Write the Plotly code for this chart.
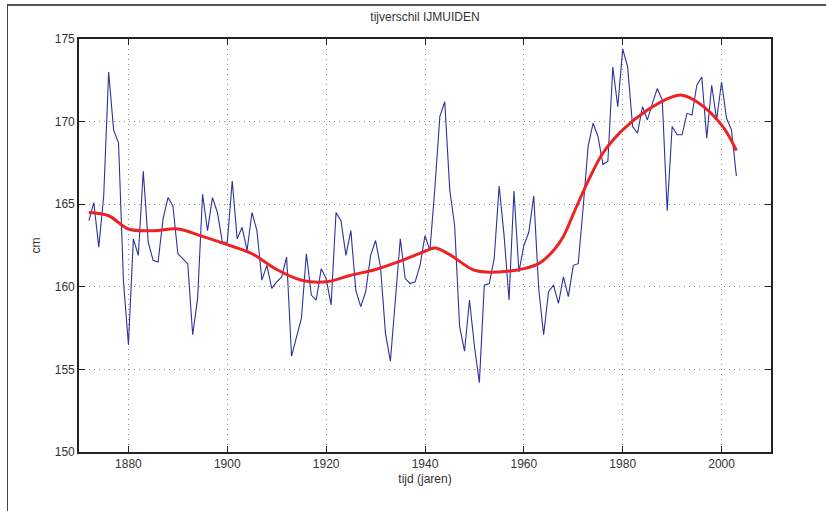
import plotly.graph_objects as go

years = list(range(1872, 2004))
tijverschil = [
    164.0, 165.1, 162.4, 165.5, 173.0, 169.5, 168.7, 160.3, 156.5, 162.9,  # 1872-1881
    161.9, 167.0, 162.7, 161.6, 161.5, 164.1, 165.4, 164.9, 162.0, 161.7,  # 1882-1891
    161.4, 157.1, 159.3, 165.6, 163.4, 165.4, 164.5, 162.7, 162.7, 166.4,  # 1892-1901
    162.9, 163.6, 162.2, 164.5, 163.4, 160.4, 161.3, 159.9, 160.3, 160.6,  # 1902-1911
    161.8, 155.8, 156.9, 158.1, 162.0, 159.5, 159.2, 161.1, 160.5, 158.9,  # 1912-1921
    164.5, 164.0, 161.9, 163.4, 159.8, 158.8, 159.7, 161.9, 162.8, 161.2,  # 1922-1931
    157.2, 155.5, 159.2, 162.9, 160.5, 160.2, 160.3, 161.3, 163.1, 162.2,  # 1932-1941
    166.0, 170.3, 171.2, 165.9, 163.7, 157.6, 156.1, 159.2, 156.4, 154.2,  # 1942-1951
    160.1, 160.2, 161.7, 166.1, 163.1, 159.2, 165.8, 160.9, 162.5, 163.3,  # 1952-1961
    165.5, 159.9, 157.1, 159.7, 160.1, 159.0, 160.6, 159.4, 161.3, 161.4,  # 1962-1971
    164.8, 168.5, 169.9, 169.1, 167.4, 167.6, 173.3, 170.9, 174.4, 173.3,  # 1972-1981
    169.7, 169.3, 170.9, 170.1, 171.1, 172.0, 171.3, 164.6, 169.7, 169.2,  # 1982-1991
    169.2, 170.5, 170.4, 172.2, 172.7, 169.0, 172.2, 170.1, 172.4, 170.2,  # 1992-2001
    169.5, 166.7,                                                          # 2002-2003
]

trend_years = [1872, 1876, 1880, 1885, 1890, 1895, 1900, 1905, 1910, 1915,
               1920, 1925, 1930, 1935, 1940, 1942, 1945, 1950, 1955, 1960,
               1963, 1966, 1968, 1970, 1973, 1976, 1980, 1985, 1990, 1992,
               1995, 2000, 2003]
trend = [164.5, 164.3, 163.5, 163.4, 163.5, 163.05, 162.55, 162.0, 161.05, 160.4,
         160.3, 160.7, 161.05, 161.55, 162.15, 162.35, 161.95, 161.0, 160.9, 161.1,
         161.4, 162.2, 163.05, 164.4, 166.4, 168.1, 169.5, 170.7, 171.5, 171.6,
         171.2, 169.8, 168.25]

x_ticks = [1880, 1900, 1920, 1940, 1960, 1980, 2000]
y_ticks = [150, 155, 160, 165, 170, 175]

FONT = "Liberation Sans, Arial, sans-serif"

fig = go.Figure()
fig.add_trace(go.Scatter(x=years, y=tijverschil, mode="lines",
                         line=dict(color="#30309E", width=1.1),
                         showlegend=False, hoverinfo="skip"))
fig.add_trace(go.Scatter(x=trend_years, y=trend, mode="lines",
                         line=dict(color="#EE2222", width=3, shape="spline", smoothing=1.0),
                         showlegend=False, hoverinfo="skip"))

axis_common = dict(
    showline=True, linecolor="#222222", linewidth=1.6, mirror="ticks",
    ticks="inside", ticklen=6, tickcolor="#222222", tickwidth=1,
    showgrid=True, gridcolor="#8a8a8a", griddash="1px,4px", gridwidth=1,
    zeroline=False,
    tickfont=dict(family=FONT, size=12, color="#333333"),
)

fig.update_xaxes(range=[1870, 2010], tickvals=x_ticks, ticktext=[str(v) for v in x_ticks],
                 title=dict(text="tijd (jaren)", standoff=4,
                            font=dict(family=FONT, size=12, color="#333333")),
                 **axis_common)
fig.update_yaxes(range=[150, 175], tickvals=y_ticks, ticktext=[str(v) for v in y_ticks],
                 title=dict(text="cm", standoff=12,
                            font=dict(family=FONT, size=12, color="#333333")),
                 **axis_common)

W, H = 826, 511
L, R, T, B = 79, 55, 39, 59

fig.update_layout(
    width=W, height=H,
    margin=dict(l=L, r=R, t=T, b=B),
    paper_bgcolor="white", plot_bgcolor="white",
    title=dict(text="tijverschil IJMUIDEN", x=0.5, xref="paper", xanchor="center",
               y=1 - 17 / H, yanchor="middle",
               font=dict(family=FONT, size=12, color="#333333")),
)

frame_js = (
    "document.body.style.margin='0';document.body.style.overflow='hidden';"
    "var d=document.createElement('div');"
    "d.style.cssText='position:absolute;left:7px;top:4px;width:1000px;height:1000px;"
    "border-left:1px solid #444;border-top:2px solid #555;pointer-events:none;z-index:10;';"
    "document.body.appendChild(d);"
)

fig.write_html("out.html", config={"displayModeBar": False}, post_script=frame_js)
